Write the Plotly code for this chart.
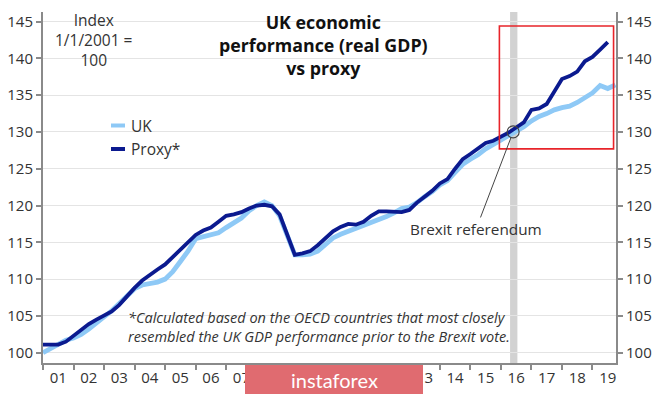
import plotly.graph_objects as go

# ---------------- data ----------------
years = list(range(2001, 2020))
year_labels = [f"{y % 100:02d}" for y in years]
quarters = [f"{y}Q{q}" for y in years for q in range(1, 5)]

uk = [100.0, 100.6, 101.2, 101.7, 102.0, 102.5, 103.2, 104.0,
      104.8, 105.7, 106.7, 107.7, 108.7, 109.2, 109.4, 109.6,
      110.0, 111.0, 112.4, 113.8, 115.5, 115.8, 116.0, 116.3,
      117.0, 117.7, 118.3, 119.3, 120.0, 120.5, 120.0, 118.6,
      116.0, 113.3, 113.3, 113.4, 113.8, 114.6, 115.6, 116.1,
      116.5, 116.9, 117.2, 117.6, 118.1, 118.5, 119.0, 119.6,
      119.8, 120.4, 121.2, 121.9, 122.8, 123.4, 124.5, 125.6,
      126.3, 126.9, 127.7, 128.3, 128.9, 129.6, 130.1, 130.7,
      131.5, 132.1, 132.5, 133.0, 133.3, 133.5, 134.0, 134.7,
      135.3, 136.3, 135.9, 136.4]

proxy = [101.1, 101.1, 101.1, 101.5, 102.3, 103.2, 103.9, 104.5,
         105.0, 105.6, 106.5, 107.7, 108.8, 109.8, 110.6, 111.3,
         112.0, 113.0, 114.1, 115.0, 116.0, 116.6, 117.0, 117.8,
         118.6, 118.8, 119.1, 119.6, 120.0, 120.1, 119.9, 118.8,
         116.2, 113.3, 113.5, 113.8, 114.6, 115.5, 116.5, 117.1,
         117.5, 117.4, 117.8, 118.6, 119.2, 119.2, 119.2, 119.1,
         119.4, 120.4, 121.2, 122.0, 123.0, 123.6, 125.0, 126.3,
         127.0, 127.8, 128.5, 128.8, 129.3, 129.9, 130.6, 131.3,
         133.0, 133.2, 133.8, 135.5, 137.2, 137.6, 138.2, 139.6,
         140.2, 141.2, 142.2]

y_ticks = [100, 105, 110, 115, 120, 125, 130, 135, 140, 145]

brexit_date = 2016.4
brexit_value = 130.0
brexit_band = (2016.3, 2016.54)
highlight_box = (2015.95, 2019.69, 127.7, 144.4)

# ---------------- helpers ----------------
def q_to_num(q):
    y, n = q.split("Q")
    return int(y) + (int(n) - 1) / 4

x_uk = [q_to_num(q) for q in quarters[:len(uk)]]
x_proxy = [q_to_num(q) for q in quarters[:len(proxy)]]

LIGHT = "#8ec9f6"
DARK = "#0b1a8f"
FONT = "Open Sans"
TXT = "#333333"
AXIS = "#8a8a8a"

# plot area pixel geometry (for paper-coordinate decorations)
W, H = 665, 396
L, R, T, B = 43, 49, 12, 33
PW, PH = W - L - R, H - T - B


def px(x):
    return (x - L) / PW


def py(y):
    return (H - B - y) / PH


fig = go.Figure()
fig.add_trace(go.Scatter(x=x_uk, y=uk, mode="lines", name="UK",
                         line=dict(color=LIGHT, width=4.8), showlegend=False))
fig.add_trace(go.Scatter(x=x_proxy, y=proxy, mode="lines", name="Proxy*",
                         line=dict(color=DARK, width=3.8), showlegend=False))
fig.add_trace(go.Scatter(x=[brexit_date], y=[brexit_value], mode="markers", yaxis="y2",
                         marker=dict(symbol="circle-open", size=12,
                                     color="#444444", line=dict(width=1.2)),
                         showlegend=False, hoverinfo="skip"))

shapes = []
# Brexit band
shapes.append(dict(type="rect", xref="x", yref="paper", x0=brexit_band[0], x1=brexit_band[1],
                   y0=0, y1=1, fillcolor="#d2d2d2", line=dict(width=0), layer="below"))
# highlight box
shapes.append(dict(type="rect", xref="x", yref="y", x0=highlight_box[0], x1=highlight_box[1],
                   y0=highlight_box[2], y1=highlight_box[3],
                   line=dict(color="#e8242a", width=1.6), fillcolor="rgba(0,0,0,0)"))
# custom legend
shapes.append(dict(type="line", xref="paper", yref="paper", x0=px(111), x1=px(125),
                   y0=py(125.5), y1=py(125.5), line=dict(color=LIGHT, width=4)))
shapes.append(dict(type="line", xref="paper", yref="paper", x0=px(111), x1=px(125),
                   y0=py(149), y1=py(149), line=dict(color=DARK, width=4)))
# watermark box
shapes.append(dict(type="rect", xref="paper", yref="paper", x0=px(245), x1=px(423),
                   y0=py(394), y1=py(365), fillcolor="#e06b70", line=dict(width=0),
                   layer="above"))

annotations = [
    dict(text="<b>UK economic<br>performance (real GDP)<br>vs proxy</b>", xref="paper", yref="paper",
         x=px(323), y=py(45), showarrow=False, font=dict(size=17.8, color="#111111", family=FONT),
         align="center", xanchor="center", yanchor="middle"),
    dict(text="Index<br>1/1/2001 =<br>100", xref="paper", yref="paper",
         x=px(93), y=py(40), showarrow=False, font=dict(size=15.5, color=TXT, family=FONT),
         align="center", xanchor="center", yanchor="middle"),
    dict(text="UK", xref="paper", yref="paper", x=px(129), y=py(125.5), showarrow=False,
         xanchor="left", yanchor="middle", font=dict(size=15.5, color=TXT, family=FONT)),
    dict(text="Proxy*", xref="paper", yref="paper", x=px(129), y=py(149), showarrow=False,
         xanchor="left", yanchor="middle", font=dict(size=15.5, color=TXT, family=FONT)),
    dict(text="<i>*Calculated based on the OECD countries that most closely<br>"
              "resembled the UK GDP performance prior to the Brexit vote.</i>",
         xref="paper", yref="paper", x=px(126), y=py(327), showarrow=False,
         xanchor="left", yanchor="middle", align="left",
         font=dict(size=14.5, color=TXT, family=FONT)),
    dict(text="Brexit referendum", x=brexit_date, y=brexit_value, xref="x", yref="y",
         showarrow=True, arrowhead=0, arrowwidth=1, arrowcolor="#444444",
         ax=-37, ay=97, standoff=6, font=dict(size=15.3, color=TXT, family=FONT)),
    dict(text="instaforex", xref="paper", yref="paper", x=px(334), y=py(379.5), showarrow=False,
         xanchor="center", yanchor="middle", font=dict(size=20, color="white", family="Lato")),
]

fig.update_layout(
    width=W, height=H,
    margin=dict(l=L, r=R, t=T, b=B, autoexpand=False),
    paper_bgcolor="white", plot_bgcolor="white",
    font=dict(family=FONT, size=15, color=TXT),
    shapes=shapes, annotations=annotations,
    xaxis=dict(range=[2001, 2019.77], tickmode="array", automargin=False,
               tickvals=[y + 0.5 for y in years], ticktext=year_labels,
               ticks="", showgrid=False, zeroline=False,
               showline=True, linecolor=AXIS, linewidth=2,
               tickfont=dict(size=15, color=TXT),
               minor=dict(tickmode="array", tickvals=years, ticks="outside",
                          ticklen=5, tickcolor=AXIS, tickwidth=1.5, showgrid=False)),
    yaxis=dict(range=[98.6, 146.3], tickmode="array", tickvals=y_ticks, automargin=False,
               ticks="outside", ticklen=5, tickcolor=AXIS, tickwidth=1.5,
               showline=True, linecolor=AXIS, linewidth=2,
               showgrid=True, gridcolor="#e4e4e4", gridwidth=1, zeroline=False,
               tickfont=dict(size=15, color=TXT)),
    yaxis2=dict(range=[98.6, 146.3], tickmode="array", tickvals=y_ticks, automargin=False,
                overlaying="y", side="right", anchor="x",
                ticks="outside", ticklen=5, tickcolor=AXIS, tickwidth=1.5,
                showline=True, linecolor=AXIS, linewidth=2,
                showgrid=False, zeroline=False,
                tickfont=dict(size=15, color=TXT)),
)

fig.write_html("out.html", config={"displayModeBar": False},
               post_script="document.body.style.margin='0';")
